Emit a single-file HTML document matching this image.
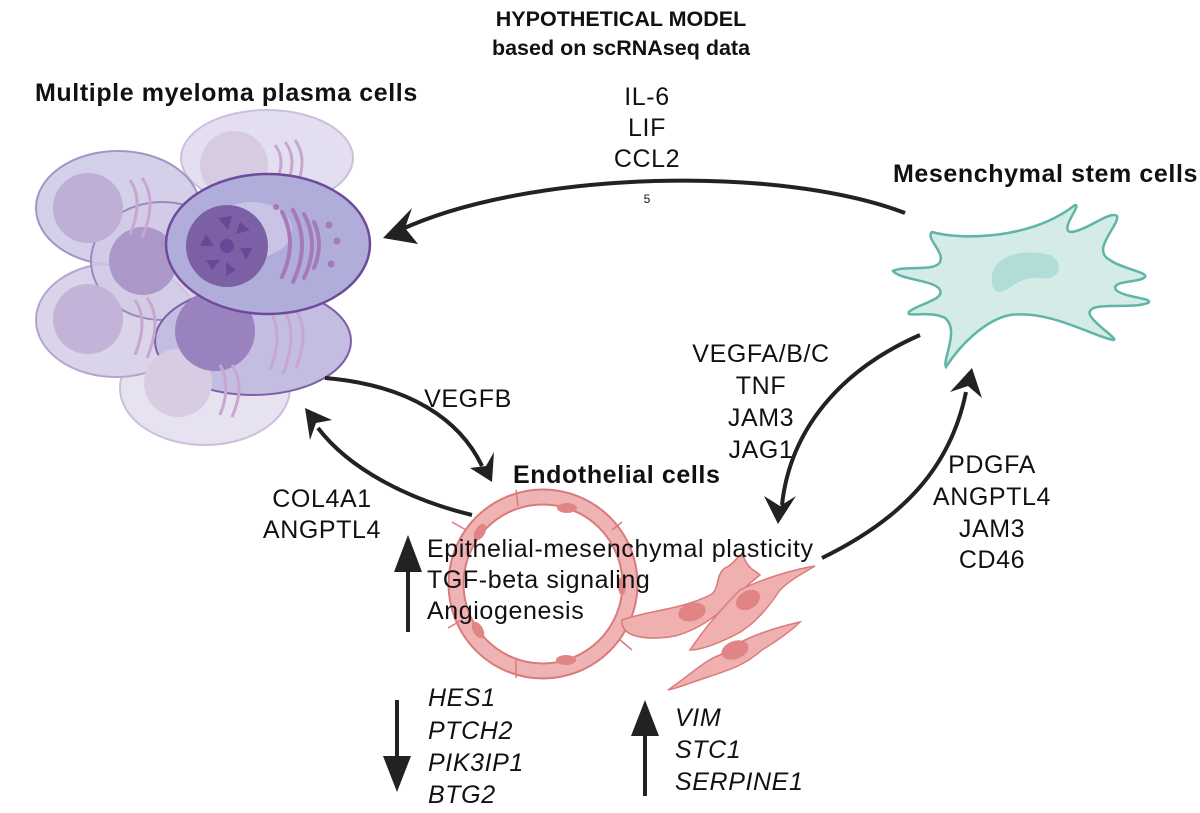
<!DOCTYPE html>
<html><head><meta charset="utf-8"><style>
html,body{margin:0;padding:0;background:#fff;}
svg{display:block;}
text{font-family:"Liberation Sans",Arial,sans-serif;fill:#111;}
.b{font-weight:bold;}
.t{font-size:25px;letter-spacing:0.6px;}
.bt{font-size:25px;letter-spacing:0.6px;font-weight:bold;}
.i{font-style:italic;}
</style></head><body>
<svg width="1200" height="813" viewBox="0 0 1200 813" xmlns="http://www.w3.org/2000/svg">
<!-- titles -->
<text x="621" y="26" text-anchor="middle" class="b" font-size="21.5">HYPOTHETICAL MODEL</text>
<text x="621" y="55" text-anchor="middle" class="b" font-size="21.5">based on scRNAseq data</text>
<text x="35" y="101" class="bt">Multiple myeloma plasma cells</text>
<text x="893" y="182" class="bt">Mesenchymal stem cells</text>
<text x="647" y="105" text-anchor="middle" class="t">IL-6</text>
<text x="647" y="136" text-anchor="middle" class="t">LIF</text>
<text x="647" y="167" text-anchor="middle" class="t">CCL2</text>
<text x="647" y="203" text-anchor="middle" font-size="12">5</text>

<!-- plasma cells -->
<g stroke="#8a6aa8" stroke-width="2">
<ellipse cx="205" cy="388" rx="85" ry="57" fill="#e6e2f0" stroke="#cdbfdc"/>
<ellipse cx="267" cy="158" rx="86" ry="48" fill="#e3dff0" stroke="#cdbfdc"/>
<ellipse cx="116" cy="320" rx="80" ry="57" fill="#d9d4ea" stroke="#b7a4cc"/>
<ellipse cx="118" cy="208" rx="82" ry="57" fill="#d5d0ea" stroke="#a893c4"/>
<ellipse cx="162" cy="261" rx="71" ry="59" fill="#cfc9e6" fill-opacity="0.8" stroke="#9f88bf"/>
<ellipse cx="253" cy="341" rx="98" ry="54" fill="#c3bde2" stroke="#7e5ea6"/>
</g>
<g stroke="none">
<circle cx="234" cy="165" r="34" fill="#d6cbe0"/>
<circle cx="88" cy="208" r="35" fill="#bfaed6"/>
<circle cx="88" cy="319" r="35" fill="#c4b3d8"/>
<circle cx="143" cy="261" r="34" fill="#ab98c9"/>
<circle cx="178" cy="383" r="34" fill="#d8cce2"/>
<circle cx="215" cy="331" r="40" fill="#9a82bf"/>
</g>
<g fill="none" stroke="#c7a7d0" stroke-width="3">
<path d="M275 145 q12 15 0 40 M285 142 q14 18 0 46 M295 140 q14 20 0 50"/>
<path d="M130 180 q14 20 0 55 M142 178 q16 22 0 60"/>
<path d="M135 300 q14 20 0 55 M147 298 q16 22 0 60"/>
<path d="M270 310 q14 25 0 60 M283 308 q16 25 0 66 M296 310 q14 22 0 58"/>
<path d="M220 365 q12 20 0 50 M232 365 q14 20 0 52"/>
</g>
<ellipse cx="268" cy="244" rx="102" ry="70" fill="#b1addb" stroke="#6e4b9a" stroke-width="2.5"/>
<ellipse cx="252" cy="230" rx="40" ry="28" fill="#c9c3e6"/>
<circle cx="227" cy="246" r="41" fill="#7c60a6"/>
<g fill="#6a4696">
<circle cx="227" cy="246" r="7"/>
<path d="M218 218 l14 -2 l-4 14z"/><path d="M240 222 l10 8 l-14 4z"/><path d="M252 248 l-6 12 l-6 -12z"/>
<path d="M236 270 l-10 6 l0 -14z"/><path d="M212 270 l-6 -10 l14 0z"/><path d="M200 246 l6 -12 l8 12z"/>
</g>
<g fill="none" stroke="#a47bb8" stroke-width="4" stroke-linecap="round">
<path d="M282 212 q16 30 0 65"/><path d="M293 210 q18 34 0 72"/><path d="M304 214 q16 30 0 64"/><path d="M314 222 q10 22 0 46"/>
</g>
<g fill="#a47bb8"><circle cx="329" cy="225" r="3.5"/><circle cx="337" cy="241" r="3.5"/><circle cx="331" cy="264" r="3.5"/><circle cx="276" cy="207" r="3"/></g>

<!-- MSC -->
<path d="M893 271 C905 265 935 272 940 262 C945 252 925 238 932 232 C960 240 1030 240 1075 205 C1082 205 1060 228 1070 232 C1085 232 1110 210 1117 216 C1120 225 1090 250 1110 260 C1120 268 1148 272 1145 277 C1140 283 1110 280 1116 290 C1125 298 1155 298 1148 303 C1130 310 1085 300 1090 315 C1095 325 1120 340 1113 340 C1090 335 1050 310 1010 315 C985 320 960 345 946 367 C942 360 960 330 945 318 C930 310 905 318 909 312 C915 305 945 300 940 290 C935 280 900 280 893 271 Z" fill="#d4ebe8" stroke="#5fb5a6" stroke-width="2.5"/>
<path d="M992 275 C995 255 1025 248 1050 255 C1065 262 1060 282 1040 278 C1020 276 1010 290 1000 292 C992 292 991 282 992 275 Z" fill="#b1dcd7"/>

<!-- arrows -->
<g fill="none" stroke="#222" stroke-width="4">
<path d="M905 213 C780 165 530 170 400 230"/>
<path d="M325 378 C410 385 460 420 482 466"/>
<path d="M472 515 C410 500 350 470 318 428"/>
<path d="M920 335 C840 370 790 430 782 505"/>
<path d="M822 558 C900 520 950 470 966 392"/>
<path d="M408 632 V560"/>
<path d="M397 700 V768"/>
<path d="M645 796 V726"/>
</g>
<g fill="#222">
<path d="M383 238 L412 208 L405 228 L418 244 Z"/>
<path d="M492 482 L470 468 L486 466 L494 452 Z"/>
<path d="M305 408 L332 420 L316 423 L310 440 Z"/>
<path d="M778 524 L764 496 L780 506 L796 496 Z"/>
<path d="M972 368 L982 398 L968 386 L950 392 Z"/>
<path d="M408 535 L394 572 L422 572 Z"/>
<path d="M397 792 L383 756 L411 756 Z"/>
<path d="M645 700 L631 736 L659 736 Z"/>
</g>

<text x="468" y="407" text-anchor="middle" class="t">VEGFB</text>
<text x="322" y="507" text-anchor="middle" class="t">COL4A1</text>
<text x="322" y="538" text-anchor="middle" class="t">ANGPTL4</text>
<text x="761" y="362" text-anchor="middle" class="t">VEGFA/B/C</text>
<text x="761" y="394" text-anchor="middle" class="t">TNF</text>
<text x="761" y="426" text-anchor="middle" class="t">JAM3</text>
<text x="761" y="458" text-anchor="middle" class="t">JAG1</text>
<text x="992" y="473" text-anchor="middle" class="t">PDGFA</text>
<text x="992" y="505" text-anchor="middle" class="t">ANGPTL4</text>
<text x="992" y="537" text-anchor="middle" class="t">JAM3</text>
<text x="992" y="568" text-anchor="middle" class="t">CD46</text>

<!-- endothelial ring -->
<circle cx="543" cy="584" r="87" fill="none" stroke="#d97a7c" stroke-width="17"/>
<circle cx="543" cy="584" r="87" fill="none" stroke="#f0b3b3" stroke-width="13"/>
<g stroke="#d97a7c" stroke-width="1.5">
<line x1="516" y1="490" x2="518" y2="506"/><line x1="612" y1="530" x2="622" y2="522"/>
<line x1="620" y1="640" x2="632" y2="650"/><line x1="516" y1="660" x2="516" y2="678"/>
<line x1="462" y1="620" x2="448" y2="628"/><line x1="466" y1="530" x2="452" y2="522"/>
</g>
<g fill="#e08486">
<ellipse cx="567" cy="508" rx="10" ry="5"/><ellipse cx="622" cy="586" rx="4" ry="9"/>
<ellipse cx="566" cy="660" rx="10" ry="5"/><ellipse cx="480" cy="532" rx="5" ry="9" transform="rotate(30 480 532)"/>
<ellipse cx="478" cy="630" rx="5" ry="9" transform="rotate(-30 478 630)"/>
</g>
<!-- mesenchymal-like cells -->
<g fill="#f0b0b0" stroke="#d97a7c" stroke-width="1.5">
<path d="M622 620 C650 610 680 610 710 595 C720 590 715 575 725 568 C735 565 740 548 745 560 C750 570 755 570 760 575 C740 590 735 600 722 610 C705 625 690 632 675 636 C655 640 620 640 622 620 Z"/>
<path d="M690 650 C700 635 715 615 740 590 C760 580 790 570 815 566 C805 572 790 580 780 590 C770 605 755 625 735 635 C715 645 700 650 690 650 Z"/>
<path d="M668 690 C690 675 705 660 720 655 C740 640 765 630 800 622 C790 632 775 642 762 650 C745 665 730 670 705 678 C690 683 678 688 668 690 Z"/>
</g>
<g fill="#e08486">
<ellipse cx="692" cy="612" rx="14" ry="9" transform="rotate(-15 692 612)"/>
<ellipse cx="748" cy="600" rx="13" ry="9" transform="rotate(-30 748 600)"/>
<ellipse cx="735" cy="650" rx="14" ry="9" transform="rotate(-20 735 650)"/>
</g>

<text x="513" y="483" class="bt">Endothelial cells</text>
<text x="427" y="557" class="t">Epithelial-mesenchymal plasticity</text>
<text x="427" y="588" class="t">TGF-beta signaling</text>
<text x="427" y="619" class="t">Angiogenesis</text>

<text x="428" y="706" class="t i">HES1</text>
<text x="428" y="739" class="t i">PTCH2</text>
<text x="428" y="771" class="t i">PIK3IP1</text>
<text x="428" y="803" class="t i">BTG2</text>
<text x="675" y="726" class="t i">VIM</text>
<text x="675" y="758" class="t i">STC1</text>
<text x="675" y="790" class="t i">SERPINE1</text>
</svg>
</body></html>
